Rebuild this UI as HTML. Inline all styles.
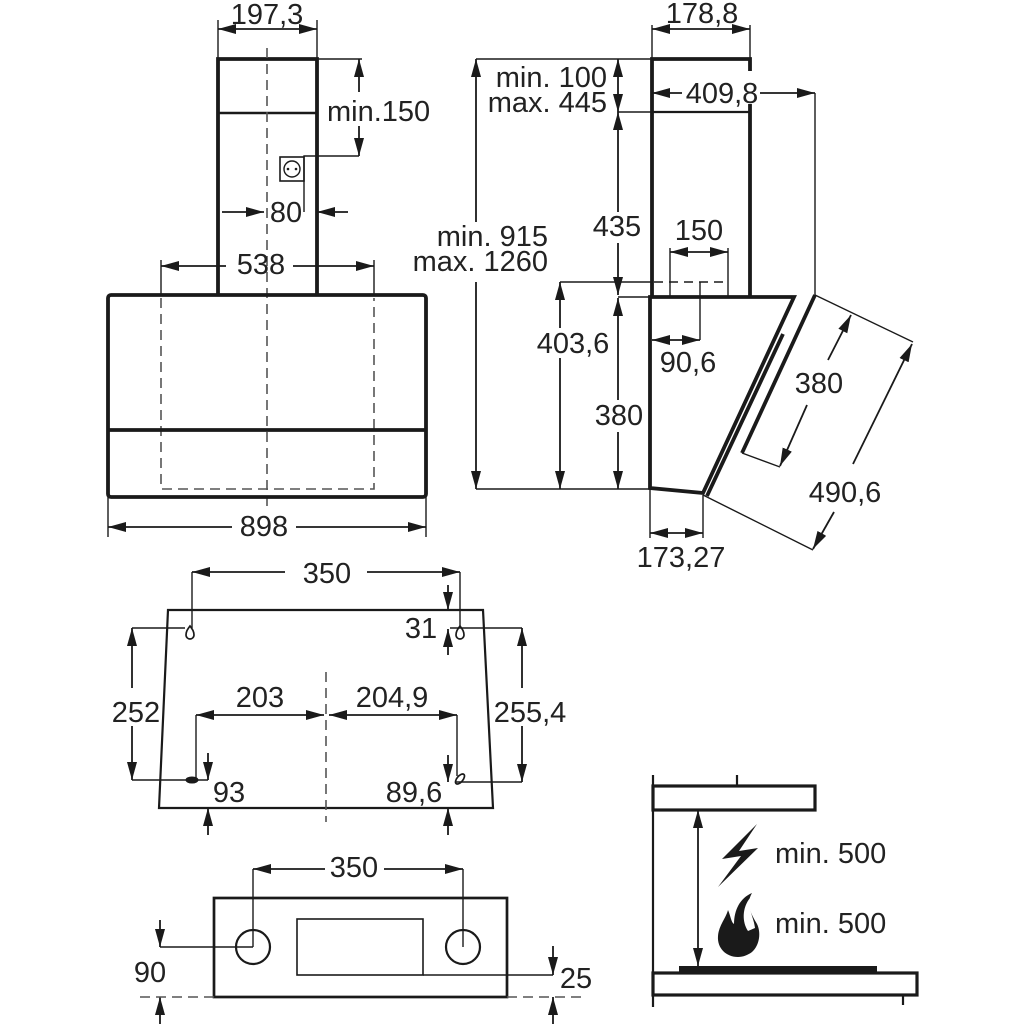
<!DOCTYPE html>
<html><head><meta charset="utf-8"><style>
html,body{margin:0;padding:0;background:#fff;}
svg{display:block;}
text{font-family:"Liberation Sans",Arial,sans-serif;font-size:29px;fill:#222;}
.k{stroke-width:3.8;}
.d{stroke-width:1.8;}
.e{stroke-width:1.4;}
.h{stroke-width:1.6;stroke-dasharray:10 6;stroke:#555;}
</style></head><body>
<svg width="1024" height="1024" viewBox="0 0 1024 1024" xmlns="http://www.w3.org/2000/svg">
<defs>
<marker id="a" viewBox="0 0 18 10" refX="18" refY="5" markerWidth="18" markerHeight="10" markerUnits="userSpaceOnUse" orient="auto-start-reverse"><path d="M0,0L18,5L0,10z" fill="#1a1a1a"/></marker>
</defs>
<g stroke="#1a1a1a" fill="none">
<!-- ===== FRONT VIEW ===== -->
<line class="e" x1="218" y1="20" x2="218" y2="59"/>
<line class="e" x1="317" y1="20" x2="317" y2="59"/>
<line class="d" x1="218" y1="29" x2="317" y2="29" marker-start="url(#a)" marker-end="url(#a)"/>
<path class="k" d="M218,295V59H317V295"/>
<line x1="218" y1="113" x2="317" y2="113" stroke-width="2.4"/>
<line class="h" x1="267" y1="48" x2="267" y2="512"/>
<!-- min.150 -->
<line class="e" x1="317" y1="59" x2="362" y2="59"/>
<line class="d" x1="359" y1="92" x2="359" y2="59" marker-end="url(#a)"/>
<line class="d" x1="359" y1="126" x2="359" y2="156" marker-end="url(#a)"/>
<path class="e" d="M359,156H304V212"/>
<rect x="280" y="157" width="24" height="24" stroke-width="1.6"/>
<circle cx="292" cy="169" r="8" stroke-width="1.4"/>
<circle cx="288" cy="169" r="1.3" fill="#1a1a1a" stroke="none"/>
<circle cx="296" cy="169" r="1.3" fill="#1a1a1a" stroke="none"/>
<!-- 80 -->
<line class="d" x1="222" y1="212" x2="264" y2="212" marker-end="url(#a)"/>
<line class="d" x1="348" y1="212" x2="317" y2="212" marker-end="url(#a)"/>
<!-- 538 -->
<line class="d" x1="226" y1="266" x2="161" y2="266" marker-end="url(#a)"/>
<line class="d" x1="293" y1="266" x2="374" y2="266" marker-end="url(#a)"/>
<line class="e" x1="161" y1="260" x2="161" y2="295"/>
<line class="e" x1="374" y1="260" x2="374" y2="295"/>
<path class="h" d="M161,298V489H374V298"/>
<!-- hood -->
<rect class="k" x="108" y="295" width="318" height="202" rx="3"/>
<line class="k" x1="108" y1="430" x2="426" y2="430"/>
<!-- 898 -->
<line class="e" x1="108" y1="497" x2="108" y2="537"/>
<line class="e" x1="426" y1="497" x2="426" y2="537"/>
<line class="d" x1="232" y1="527" x2="108" y2="527" marker-end="url(#a)"/>
<line class="d" x1="296" y1="527" x2="426" y2="527" marker-end="url(#a)"/>

<!-- ===== SIDE VIEW ===== -->
<line class="e" x1="652" y1="25" x2="652" y2="59"/>
<line class="e" x1="750" y1="25" x2="750" y2="59"/>
<line class="d" x1="652" y1="29" x2="750" y2="29" marker-start="url(#a)" marker-end="url(#a)"/>
<path class="k" d="M652,297V59H750V71"/>
<line class="k" x1="750" y1="104" x2="750" y2="297"/>
<line x1="652" y1="112" x2="750" y2="112" stroke-width="2.2"/>
<line class="e" x1="476" y1="59" x2="652" y2="59"/>
<line class="e" x1="618" y1="112" x2="652" y2="112"/>
<line class="e" x1="560" y1="282" x2="652" y2="282"/>
<line class="e" x1="618" y1="297" x2="652" y2="297"/>
<line class="e" x1="476" y1="489" x2="650" y2="489"/>
<line class="d" x1="618" y1="59" x2="618" y2="112" marker-start="url(#a)" marker-end="url(#a)"/>
<line class="d" x1="476" y1="222" x2="476" y2="59" marker-end="url(#a)"/>
<line class="d" x1="476" y1="282" x2="476" y2="489" marker-end="url(#a)"/>
<line class="d" x1="618" y1="212" x2="618" y2="112" marker-end="url(#a)"/>
<line class="d" x1="618" y1="243" x2="618" y2="295" marker-end="url(#a)"/>
<line class="d" x1="560" y1="328" x2="560" y2="282" marker-end="url(#a)"/>
<line class="d" x1="560" y1="358" x2="560" y2="489" marker-end="url(#a)"/>
<line class="d" x1="618" y1="400" x2="618" y2="298" marker-end="url(#a)"/>
<line class="d" x1="618" y1="432" x2="618" y2="489" marker-end="url(#a)"/>
<!-- 150 -->
<line class="e" x1="670" y1="248" x2="670" y2="297"/>
<line class="e" x1="728" y1="248" x2="728" y2="297"/>
<line class="e" x1="700" y1="282" x2="700" y2="340"/>
<line x1="654" y1="282" x2="728" y2="282" stroke-width="1.6" stroke-dasharray="9 6"/>
<line class="d" x1="670" y1="252" x2="728" y2="252" marker-start="url(#a)" marker-end="url(#a)"/>
<line class="d" x1="652" y1="340" x2="700" y2="340" marker-start="url(#a)" marker-end="url(#a)"/>
<!-- body -->
<path class="k" d="M650,297H794L703,493L650,488Z" stroke-linejoin="miter"/>
<line class="k" x1="783" y1="334" x2="707" y2="496"/>
<line class="k" x1="815" y1="295" x2="742" y2="453"/>
<line class="e" x1="742" y1="453" x2="780" y2="467"/>
<!-- 409,8 -->
<line class="d" x1="682" y1="93" x2="652" y2="93" marker-end="url(#a)"/>
<line class="d" x1="760" y1="93" x2="815" y2="93" marker-end="url(#a)"/>
<line class="e" x1="815" y1="93" x2="815" y2="295"/>
<!-- tilted dims -->
<line class="e" x1="815" y1="295" x2="913" y2="342"/>
<line class="e" x1="703" y1="495" x2="813" y2="550"/>
<line class="d" x1="828" y1="360" x2="851" y2="315" marker-end="url(#a)"/>
<line class="d" x1="807" y1="405" x2="780" y2="466" marker-end="url(#a)"/>
<line class="d" x1="853" y1="464" x2="912" y2="344" marker-end="url(#a)"/>
<line class="d" x1="834" y1="512" x2="813" y2="549" marker-end="url(#a)"/>
<!-- 173,27 -->
<line class="e" x1="650" y1="489" x2="650" y2="538"/>
<line class="e" x1="703" y1="495" x2="703" y2="538"/>
<line class="d" x1="650" y1="533" x2="703" y2="533" marker-start="url(#a)" marker-end="url(#a)"/>

<!-- ===== MOUNTING TEMPLATE ===== -->
<path d="M168,610H483L493,808H159Z" stroke-width="2.2"/>
<line class="e" x1="192" y1="572" x2="192" y2="628"/>
<line class="e" x1="460" y1="572" x2="460" y2="628"/>
<line class="d" x1="285" y1="572" x2="192" y2="572" marker-end="url(#a)"/>
<line class="d" x1="367" y1="572" x2="460" y2="572" marker-end="url(#a)"/>
<path d="M190,626C187,630 186,632 186,635A4,4 0 0 0 194,635C194,632 193,630 190,626Z" stroke-width="1.7"/>
<path d="M460,626C457,630 456,632 456,635A4,4 0 0 0 464,635C464,632 463,630 460,626Z" stroke-width="1.7"/>
<line class="d" x1="448" y1="585" x2="448" y2="610" marker-end="url(#a)"/>
<line class="d" x1="448" y1="655" x2="448" y2="629" marker-end="url(#a)"/>
<line class="e" x1="450" y1="628" x2="522" y2="628"/>
<line class="e" x1="132" y1="628" x2="185" y2="628"/>
<line class="d" x1="132" y1="688" x2="132" y2="628" marker-end="url(#a)"/>
<line class="d" x1="132" y1="726" x2="132" y2="780" marker-end="url(#a)"/>
<line class="e" x1="132" y1="780" x2="208" y2="780"/>
<line class="d" x1="522" y1="688" x2="522" y2="628" marker-end="url(#a)"/>
<line class="d" x1="522" y1="726" x2="522" y2="782" marker-end="url(#a)"/>
<line class="e" x1="455" y1="782" x2="522" y2="782"/>
<line class="h" x1="326" y1="672" x2="326" y2="822"/>
<line class="d" x1="196" y1="715" x2="324" y2="715" marker-start="url(#a)" marker-end="url(#a)"/>
<line class="d" x1="329" y1="715" x2="457" y2="715" marker-start="url(#a)" marker-end="url(#a)"/>
<line class="e" x1="196" y1="715" x2="196" y2="778"/>
<line class="e" x1="457" y1="715" x2="457" y2="776"/>
<ellipse cx="192" cy="780" rx="6" ry="3" fill="#1a1a1a" stroke-width="1"/>
<ellipse cx="460" cy="779" rx="6" ry="3" transform="rotate(-50 460 779)" stroke-width="1.7"/>
<line class="d" x1="208" y1="753" x2="208" y2="780" marker-end="url(#a)"/>
<line class="d" x1="208" y1="835" x2="208" y2="808" marker-end="url(#a)"/>
<line class="d" x1="448" y1="755" x2="448" y2="782" marker-end="url(#a)"/>
<line class="d" x1="448" y1="835" x2="448" y2="808" marker-end="url(#a)"/>

<!-- ===== BOTTOM PLATE ===== -->
<rect x="214" y="898" width="293" height="99" stroke-width="2.7"/>
<circle cx="253" cy="947" r="17" stroke-width="2.2"/>
<circle cx="463" cy="947" r="17" stroke-width="2.2"/>
<rect x="297" y="919" width="126" height="56" stroke-width="1.6"/>
<line class="e" x1="253" y1="869" x2="253" y2="947"/>
<line class="e" x1="463" y1="869" x2="463" y2="947"/>
<line class="d" x1="325" y1="869" x2="253" y2="869" marker-end="url(#a)"/>
<line class="d" x1="384" y1="869" x2="463" y2="869" marker-end="url(#a)"/>
<line class="e" x1="160" y1="947" x2="253" y2="947"/>
<line class="d" x1="160" y1="920" x2="160" y2="947" marker-end="url(#a)"/>
<line class="d" x1="160" y1="1024" x2="160" y2="997" marker-end="url(#a)"/>
<line class="h" x1="140" y1="997" x2="214" y2="997"/>
<line class="e" x1="423" y1="975" x2="553" y2="975"/>
<line class="d" x1="553" y1="946" x2="553" y2="975" marker-end="url(#a)"/>
<line class="d" x1="553" y1="1024" x2="553" y2="997" marker-end="url(#a)"/>
<line class="h" x1="507" y1="997" x2="582" y2="997"/>

<!-- ===== CLEARANCE ===== -->
<line x1="653" y1="775" x2="653" y2="1007" stroke-width="2.2"/>
<rect x="653" y="786" width="162" height="24" stroke-width="3.2"/>
<line x1="737" y1="775" x2="737" y2="786" stroke-width="2.2"/>
<line class="d" x1="698" y1="810" x2="698" y2="966" marker-start="url(#a)" marker-end="url(#a)"/>
<rect x="679" y="966" width="198" height="7" fill="#1a1a1a" stroke="none"/>
<rect x="653" y="973" width="264" height="22" stroke-width="3.2"/>
<line x1="903" y1="995" x2="903" y2="1005" stroke-width="2.2"/>
</g>
<path d="M757,824L722,859L741,856L718,887L758,848L739,851Z" fill="#1a1a1a"/>
<path d="M738,957C726,957 717,948 718,936C719,925 726,918 728,910C731,917 731,922 734,924C734,910 740,898 752,893C745,905 752,915 757,924C761,932 760,945 752,952C748,955 743,957 738,957Z" fill="#1a1a1a"/>
<path d="M748,931C742,922 742,908 750,898C748,910 754,918 755,928Z" fill="#fff"/>

<!-- ===== TEXT ===== -->
<text x="267" y="24" text-anchor="middle">197,3</text>
<text x="327" y="121">min.150</text>
<text x="286" y="222" text-anchor="middle">80</text>
<text x="261" y="274" text-anchor="middle">538</text>
<text x="264" y="536" text-anchor="middle">898</text>

<text x="702" y="23" text-anchor="middle">178,8</text>
<text x="607" y="87" text-anchor="end">min. 100</text>
<text x="607" y="112" text-anchor="end">max. 445</text>
<text x="722" y="103" text-anchor="middle">409,8</text>
<text x="548" y="246" text-anchor="end">min. 915</text>
<text x="548" y="271" text-anchor="end">max. 1260</text>
<text x="617" y="236" text-anchor="middle">435</text>
<text x="699" y="240" text-anchor="middle">150</text>
<text x="573" y="353" text-anchor="middle">403,6</text>
<text x="688" y="372" text-anchor="middle">90,6</text>
<text x="619" y="425" text-anchor="middle">380</text>
<text x="819" y="393" text-anchor="middle">380</text>
<text x="845" y="502" text-anchor="middle">490,6</text>
<text x="681" y="567" text-anchor="middle">173,27</text>

<text x="327" y="583" text-anchor="middle">350</text>
<text x="421" y="638" text-anchor="middle">31</text>
<text x="136" y="722" text-anchor="middle">252</text>
<text x="530" y="722" text-anchor="middle">255,4</text>
<text x="260" y="707" text-anchor="middle">203</text>
<text x="392" y="707" text-anchor="middle">204,9</text>
<text x="229" y="802" text-anchor="middle">93</text>
<text x="414" y="802" text-anchor="middle">89,6</text>

<text x="354" y="877" text-anchor="middle">350</text>
<text x="150" y="982" text-anchor="middle">90</text>
<text x="576" y="988" text-anchor="middle">25</text>

<text x="775" y="863">min. 500</text>
<text x="775" y="933">min. 500</text>
</svg>
</body></html>
